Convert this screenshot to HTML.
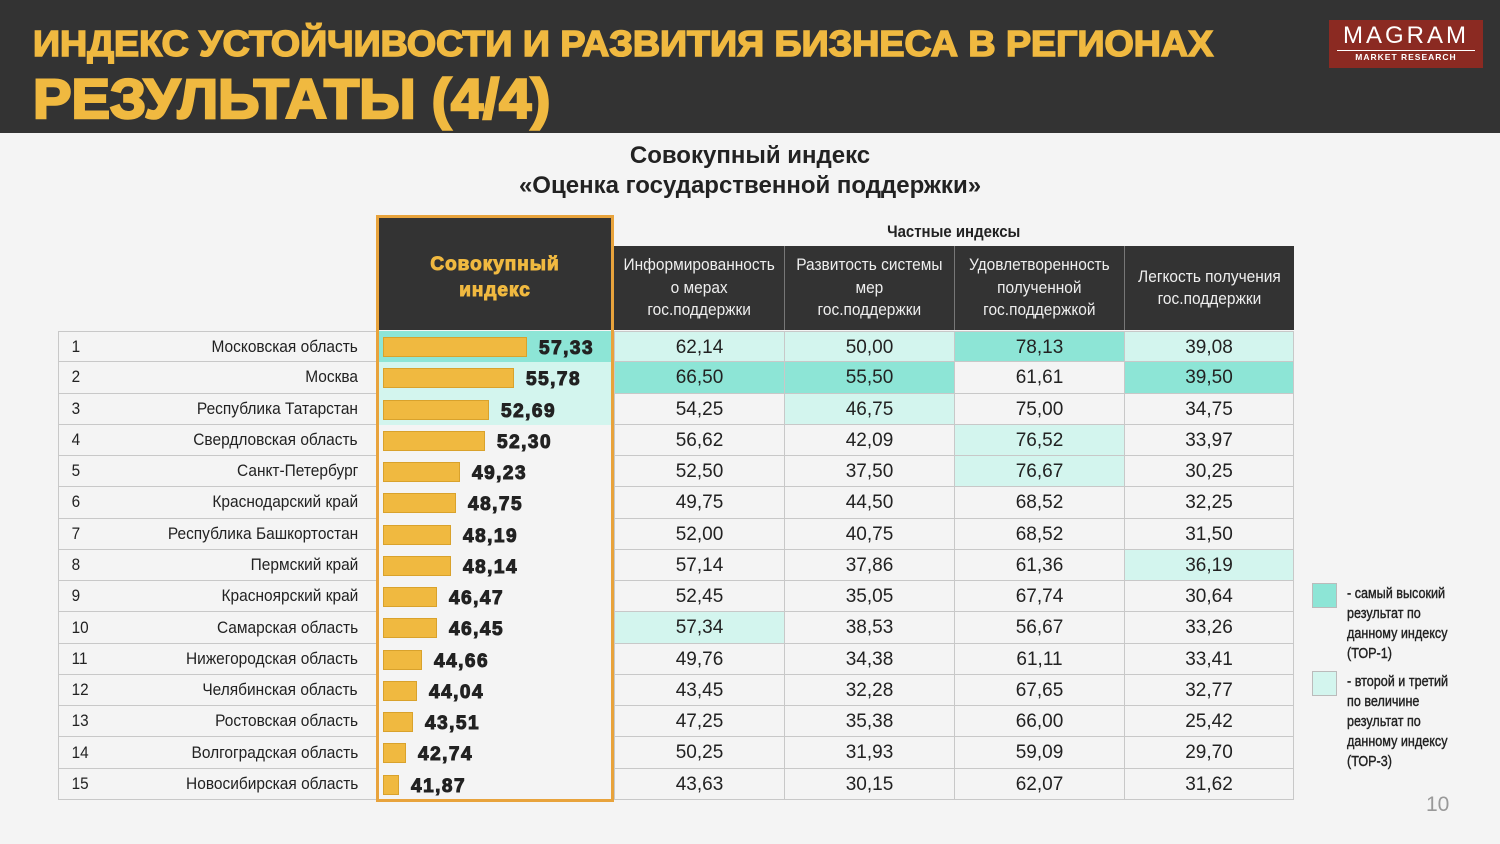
<!DOCTYPE html>
<html><head><meta charset="utf-8"><style>
*{margin:0;padding:0;box-sizing:border-box}
body{width:1500px;height:844px;background:#f4f4f4;position:relative;overflow:hidden;font-family:"Liberation Sans","Noto Sans CJK SC",sans-serif;color:#222}
.hdr{position:absolute;left:0;top:0;width:1500px;height:133px;background:#333}
.t1{position:absolute;left:33px;top:23px;font:bold 36px "Liberation Sans",sans-serif;color:#f0b940;white-space:nowrap;transform-origin:left top;transform:scaleX(1.045);-webkit-text-stroke:1.6px #f0b940}
.t2{position:absolute;left:33px;top:66px;font:bold 56px "Liberation Sans",sans-serif;color:#f0b940;white-space:nowrap;transform-origin:left top;transform:scaleX(1.03);-webkit-text-stroke:2.5px #f0b940}
.logo{position:absolute;left:1329px;top:20px;width:154px;height:48px;background:#8b2a22;color:#fff;text-align:center}
.logo .m{font:24px "Liberation Sans",sans-serif;letter-spacing:3px;margin-top:4px;line-height:24px}
.logo .r{font:bold 8.5px "Liberation Sans",sans-serif;letter-spacing:1px;border-top:1px solid #fff;margin:2px 8px 0;padding-top:1px}
.ttl{position:absolute;left:0;width:1500px;text-align:center;font:bold 24px "Liberation Sans",sans-serif;color:#222}
.rows{position:absolute;left:58px;top:331px}
.row{display:flex;height:31.27px}
.a{width:320px;display:flex;align-items:center;border-left:1px solid #c8c8c8;border-bottom:1px solid #c8c8c8;font-size:17px}
.row:first-child .a,.row:first-child .d{border-top:1px solid #c8c8c8}
.a .n{width:50px;padding-left:14px;display:inline-block;transform:scaleX(0.9);transform-origin:left center}
.a .nm{flex:1;text-align:right;padding-right:20px}
.a .nm span{display:inline-block;transform:scaleX(0.91);transform-origin:right center;white-space:nowrap}
.c{width:236px;position:relative}
.c .b{position:absolute;left:5px;top:6px;height:20px;background:#f0b940;border:1px solid #d9a22c}
.c .v{position:absolute;top:7px;font:bold 19px "Liberation Sans",sans-serif;letter-spacing:1.5px;color:#222;-webkit-text-stroke:1px #222}
.d{width:170px;border-left:1px solid #c8c8c8;border-bottom:1px solid #c8c8c8;text-align:center;font:19px "Liberation Sans",sans-serif;line-height:31px;color:#222}
.d.last{border-right:1px solid #c8c8c8}
.k{background:#8de5d6}.l{background:#d3f5ee}
.ob{position:absolute;left:376px;top:215px;width:238px;height:587px;border:3px solid #e8a33c}
.ch{position:absolute;left:379px;top:218px;width:232px;height:112px;background:#333;color:#f0b940;text-align:center;font:bold 19px "Liberation Sans",sans-serif;letter-spacing:1px;-webkit-text-stroke:1px #f0b940;line-height:26px;padding-top:34px}
.sh{position:absolute;left:614px;top:246px;height:84px;display:flex;background:#333}
.sh div{width:170px;border-left:1px solid #777;color:#eee;font-size:17px;line-height:22.5px;text-align:center;display:flex;align-items:center;justify-content:center}
.sh div span{display:inline-block;transform:scaleX(0.91);white-space:nowrap}
.sh div:first-child{border-left:none}
.leg{position:absolute;left:1347px;font-size:15px;line-height:20px;color:#222;white-space:nowrap;transform:scaleX(0.84);transform-origin:left top;-webkit-text-stroke:0.4px #222}
.sq{position:absolute;left:1312px;width:25px;height:25px;border:1px solid #bbb}
.sub{position:absolute;left:614px;width:679px;top:222px;text-align:center;font-weight:bold;font-size:17px}
.sub span{display:inline-block;transform:scaleX(0.88)}
</style></head><body>
<div class="hdr"></div>
<div class="t1">ИНДЕКС УСТОЙЧИВОСТИ И РАЗВИТИЯ БИЗНЕСА В РЕГИОНАХ</div>
<div class="t2">РЕЗУЛЬТАТЫ (4/4)</div>
<div class="logo"><div class="m">MAGRAM</div><div class="r">MARKET RESEARCH</div></div>
<div class="ttl" style="top:142px">Совокупный индекс</div>
<div class="ttl" style="top:172px">«Оценка государственной поддержки»</div>
<div class="sub"><span>Частные индексы</span></div>
<div class="ch">Совокупный<br>индекс</div>
<div class="sh"><div><span>Информированность<br>о мерах<br>гос.поддержки</span></div><div><span>Развитость системы<br>мер<br>гос.поддержки</span></div><div><span>Удовлетворенность<br>полученной<br>гос.поддержкой</span></div><div><span>Легкость получения<br>гос.поддержки</span></div></div>
<div class="rows">
<div class="row"><div class="a"><span class="n">1</span><span class="nm"><span>Московская область</span></span></div><div class="c k"><div class="b" style="width:144px"></div><div class="v" style="left:161px">57,33</div></div><div class="d l">62,14</div><div class="d l">50,00</div><div class="d k">78,13</div><div class="d l last">39,08</div></div>
<div class="row"><div class="a"><span class="n">2</span><span class="nm"><span>Москва</span></span></div><div class="c l"><div class="b" style="width:131px"></div><div class="v" style="left:148px">55,78</div></div><div class="d k">66,50</div><div class="d k">55,50</div><div class="d">61,61</div><div class="d k last">39,50</div></div>
<div class="row"><div class="a"><span class="n">3</span><span class="nm"><span>Республика Татарстан</span></span></div><div class="c l"><div class="b" style="width:106px"></div><div class="v" style="left:123px">52,69</div></div><div class="d">54,25</div><div class="d l">46,75</div><div class="d">75,00</div><div class="d last">34,75</div></div>
<div class="row"><div class="a"><span class="n">4</span><span class="nm"><span>Свердловская область</span></span></div><div class="c"><div class="b" style="width:102px"></div><div class="v" style="left:119px">52,30</div></div><div class="d">56,62</div><div class="d">42,09</div><div class="d l">76,52</div><div class="d last">33,97</div></div>
<div class="row"><div class="a"><span class="n">5</span><span class="nm"><span>Санкт-Петербург</span></span></div><div class="c"><div class="b" style="width:77px"></div><div class="v" style="left:94px">49,23</div></div><div class="d">52,50</div><div class="d">37,50</div><div class="d l">76,67</div><div class="d last">30,25</div></div>
<div class="row"><div class="a"><span class="n">6</span><span class="nm"><span>Краснодарский край</span></span></div><div class="c"><div class="b" style="width:73px"></div><div class="v" style="left:90px">48,75</div></div><div class="d">49,75</div><div class="d">44,50</div><div class="d">68,52</div><div class="d last">32,25</div></div>
<div class="row"><div class="a"><span class="n">7</span><span class="nm"><span>Республика Башкортостан</span></span></div><div class="c"><div class="b" style="width:68px"></div><div class="v" style="left:85px">48,19</div></div><div class="d">52,00</div><div class="d">40,75</div><div class="d">68,52</div><div class="d last">31,50</div></div>
<div class="row"><div class="a"><span class="n">8</span><span class="nm"><span>Пермский край</span></span></div><div class="c"><div class="b" style="width:68px"></div><div class="v" style="left:85px">48,14</div></div><div class="d">57,14</div><div class="d">37,86</div><div class="d">61,36</div><div class="d l last">36,19</div></div>
<div class="row"><div class="a"><span class="n">9</span><span class="nm"><span>Красноярский край</span></span></div><div class="c"><div class="b" style="width:54px"></div><div class="v" style="left:71px">46,47</div></div><div class="d">52,45</div><div class="d">35,05</div><div class="d">67,74</div><div class="d last">30,64</div></div>
<div class="row"><div class="a"><span class="n">10</span><span class="nm"><span>Самарская область</span></span></div><div class="c"><div class="b" style="width:54px"></div><div class="v" style="left:71px">46,45</div></div><div class="d l">57,34</div><div class="d">38,53</div><div class="d">56,67</div><div class="d last">33,26</div></div>
<div class="row"><div class="a"><span class="n">11</span><span class="nm"><span>Нижегородская область</span></span></div><div class="c"><div class="b" style="width:39px"></div><div class="v" style="left:56px">44,66</div></div><div class="d">49,76</div><div class="d">34,38</div><div class="d">61,11</div><div class="d last">33,41</div></div>
<div class="row"><div class="a"><span class="n">12</span><span class="nm"><span>Челябинская область</span></span></div><div class="c"><div class="b" style="width:34px"></div><div class="v" style="left:51px">44,04</div></div><div class="d">43,45</div><div class="d">32,28</div><div class="d">67,65</div><div class="d last">32,77</div></div>
<div class="row"><div class="a"><span class="n">13</span><span class="nm"><span>Ростовская область</span></span></div><div class="c"><div class="b" style="width:30px"></div><div class="v" style="left:47px">43,51</div></div><div class="d">47,25</div><div class="d">35,38</div><div class="d">66,00</div><div class="d last">25,42</div></div>
<div class="row"><div class="a"><span class="n">14</span><span class="nm"><span>Волгоградская область</span></span></div><div class="c"><div class="b" style="width:23px"></div><div class="v" style="left:40px">42,74</div></div><div class="d">50,25</div><div class="d">31,93</div><div class="d">59,09</div><div class="d last">29,70</div></div>
<div class="row"><div class="a"><span class="n">15</span><span class="nm"><span>Новосибирская область</span></span></div><div class="c"><div class="b" style="width:16px"></div><div class="v" style="left:33px">41,87</div></div><div class="d">43,63</div><div class="d">30,15</div><div class="d">62,07</div><div class="d last">31,62</div></div>
</div>
<div class="ob"></div>
<div class="sq k" style="top:583px"></div>
<div class="leg" style="top:584px">- самый высокий<br>результат по<br>данному индексу<br>(ТОР-1)</div>
<div class="sq l" style="top:671px"></div>
<div class="leg" style="top:672px">- второй и третий<br>по величине<br>результат по<br>данному индексу<br>(ТОР-3)</div>
<div style="position:absolute;left:1426px;top:793px;font:21px 'Liberation Sans',sans-serif;color:#999">10</div>
</body></html>
